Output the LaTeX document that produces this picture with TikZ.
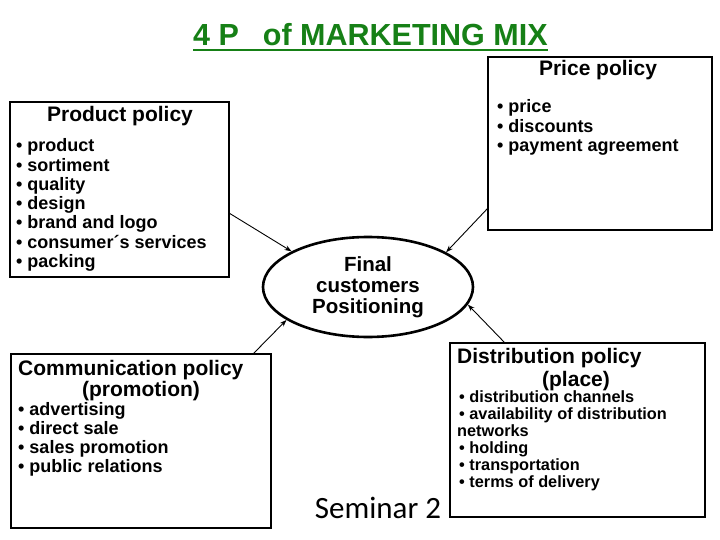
\documentclass[tikz,border=0pt]{standalone}
\usepackage{fontspec}
\setmainfont{Liberation Sans}
\newfontfamily\semfont{Carlito}
\usetikzlibrary{arrows.meta,shapes.geometric}
\definecolor{titlegreen}{RGB}{22,128,22}
\begin{document}
\begin{tikzpicture}[x=1pt,y=-1pt,
  panel/.style={draw=black,line width=2.6pt,rectangle,inner sep=0pt},
  ttl/.style={font=\bfseries\fontsize{21}{21}\selectfont,inner sep=0pt,anchor=base},
  ttlw/.style={font=\bfseries\fontsize{21}{21}\selectfont,inner sep=0pt,anchor=base west},
  itm/.style={font=\bfseries\fontsize{18}{18}\selectfont,inner sep=0pt,anchor=base west},
  sitm/.style={font=\bfseries\fontsize{16.3}{16.3}\selectfont,inner sep=0pt,anchor=base west},
  conn/.style={-{Stealth[length=7pt,width=5pt]},line width=0.9pt}]
\useasboundingbox[fill=white] (0,0) rectangle (720,540);

% title
\node[font=\bfseries\fontsize{30.5}{30.5}\selectfont,text=titlegreen,inner sep=0pt,anchor=base west] (title) at (193,46) {4 P\hspace{24pt}of MARKETING MIX};
\draw[titlegreen,line width=2.4pt] ([yshift=-4pt]title.base west) -- ([yshift=-4pt]title.base east);

% boxes
\node[panel,minimum width=219pt,minimum height=175pt] (prod) at (119.5,189.5) {};
\node[panel,minimum width=224pt,minimum height=173pt] (price) at (600,143.5) {};
\node[panel,minimum width=260pt,minimum height=174pt] (comm) at (141,441) {};
\node[panel,minimum width=255pt,minimum height=174pt] (dist) at (577.5,430) {};

% ellipse
\node[draw=black,ellipse,line width=2.6pt,minimum width=210pt,minimum height=100pt,inner sep=0pt,
      align=center,font=\bfseries\fontsize{20.5}{21}\selectfont] (ell) at (368,287) {Final\\customers\\Positioning};

% product policy
\node[ttl] (prodt) at (120,122) {Product policy};
\foreach \t [count=\i] in {product,sortiment,quality,design,brand and logo,consumer´s services,packing}
  \node[itm] (pi\i) at (16,{152+19.2*(\i-1)}) {•~\t};

% price policy
\node[ttl] (pricet) at (598,76) {Price policy};
\foreach \t [count=\i] in {price,discounts,payment agreement}
  \node[itm] (ri\i) at (497,{113+19.2*(\i-1)}) {•~\t};

% communication policy
\node[ttlw] (commt) at (18,375) {Communication policy};
\node[ttl] (commp) at (141,396) {(promotion)};
\foreach \t [count=\i] in {advertising,direct sale,sales promotion,public relations}
  \node[itm] (ci\i) at (18,{415+19.3*(\i-1)}) {•~\t};

% distribution policy
\node[ttlw] (distt) at (457,363) {Distribution policy};
\node[ttl] (distp) at (576,386) {(place)};
\node[sitm] (di1) at (459,402) {•~distribution channels};
\node[sitm] (di2) at (459,419) {•~availability of distribution};
\node[sitm] (di3) at (457,436) {networks};
\node[sitm] (di4) at (459,453) {•~holding};
\node[sitm] (di5) at (459,470) {•~transportation};
\node[sitm] (di6) at (459,487) {•~terms of delivery};

% connectors
\coordinate (pa) at (229,213);
\coordinate (ra) at (488,208);
\coordinate (ca) at (253,354);
\coordinate (da) at (505,343);
\draw[conn] (pa) -- (ell.155.9);
\draw[conn] (ra) -- (ell.24.4);
\draw[conn] (ca) -- (ell.202.9);
\draw[conn] (da) -- (ell.-10);

% seminar
\node[font=\semfont\fontsize{31}{31}\selectfont,inner sep=0pt] (sem) at (378,508) {Seminar 2};
\end{tikzpicture}
\end{document}
